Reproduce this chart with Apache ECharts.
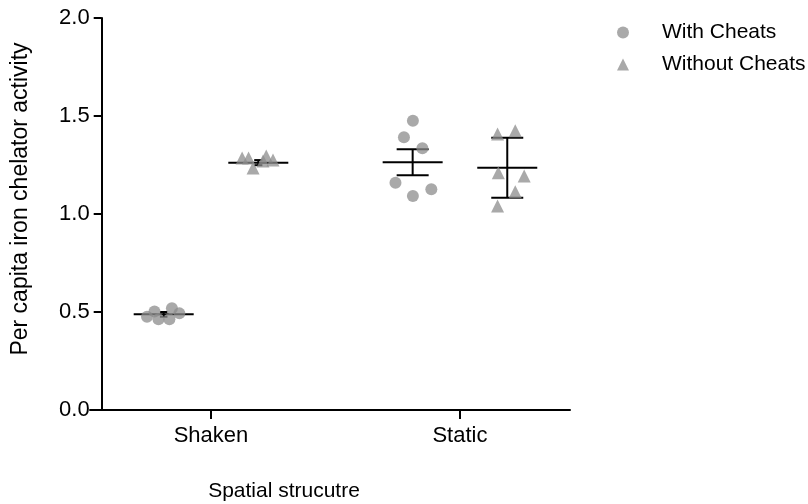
<!DOCTYPE html>
<html>
<head>
<meta charset="utf-8">
<script src="https://cdn.jsdelivr.net/npm/echarts@6/dist/echarts.min.js"></script>
<style>
html,body{margin:0;padding:0;background:#fff;}
#chart{width:808px;height:504px;}
</style>
</head>
<body>
<div id="chart"></div>
<script>
// ---- data ----
const categories = ['Shaken', 'Static'];
const seriesNames = ['With Cheats', 'Without Cheats'];
const yTicks = [0, 0.5, 1, 1.5, 2];

const withShaken     = [0.502, 0.519, 0.493, 0.476, 0.463, 0.463];
const withShakenJit  = [-0.037, 0.033, 0.063, -0.067, -0.021, 0.023];
const withStatic     = [1.476, 1.391, 1.335, 1.160, 1.092, 1.126];
const withStaticJit  = [0.001, -0.035, 0.039, -0.069, 0.001, 0.075];
const withoutShaken    = [1.286, 1.286, 1.235, 1.296, 1.270, 1.276];
const withoutShakenJit = [-0.065, -0.039, -0.021, 0.032, 0.019, 0.059];
const withoutStatic    = [1.408, 1.425, 1.211, 1.194, 1.114, 1.041];
const withoutStaticJit = [-0.039, 0.032, -0.036, 0.068, 0.032, -0.039];

const withMeans    = [0.488, 1.264];
const withErrors   = [0.012, 0.066];
const withoutMeans  = [1.262, 1.236];
const withoutErrors = [0.013, 0.153];

// ---- build ----
const groupOffset = 0.19;
function pts(vals, jit, catIdx, side) {
  return vals.map((v, i) => [catIdx + 1 + side * groupOffset + jit[i], v]);
}
const withData = pts(withShaken, withShakenJit, 0, -1).concat(pts(withStatic, withStaticJit, 1, -1));
const withoutData = pts(withoutShaken, withoutShakenJit, 0, 1).concat(pts(withoutStatic, withoutStaticJit, 1, 1));
const errData = [];
categories.forEach((c, i) => {
  errData.push([i + 1 - groupOffset, withMeans[i], withErrors[i]]);
  errData.push([i + 1 + groupOffset, withoutMeans[i], withoutErrors[i]]);
});

const FONT = 'Liberation Sans, Arial, Helvetica, sans-serif';
const chart = echarts.init(document.getElementById('chart'));
chart.setOption({
  animation: false,
  backgroundColor: '#fff',
  textStyle: { fontFamily: FONT },
  grid: { left: 90, top: 18, width: 480, height: 392, containLabel: false },
  legend: {
    orient: 'vertical', left: 612, top: 17,
    itemWidth: 12, itemHeight: 12, itemGap: 11,
    data: seriesNames,
    textStyle: { fontSize: 21, color: '#000', fontFamily: FONT, padding: [0, 0, 0, 28] }
  },
  xAxis: {
    type: 'value', min: 0.514, max: 2.442,
    axisLine: { show: true, lineStyle: { color: '#000', width: 2 } },
    axisTick: { show: true, length: 9, lineStyle: { color: '#000', width: 2 }, customValues: [1, 2] },
    axisLabel: { customValues: [1, 2], formatter: v => categories[Math.round(v) - 1], fontSize: 22, color: '#000', margin: 15, fontFamily: FONT },
    splitLine: { show: false }
  },
  yAxis: {
    type: 'value', min: 0, max: 2, interval: 0.5, offset: -11.7,
    axisLine: { show: true, lineStyle: { color: '#000', width: 2 } },
    axisTick: { show: true, length: 8, lineStyle: { color: '#000', width: 2 } },
    axisLabel: { formatter: v => v.toFixed(1), fontSize: 22, color: '#000', margin: 12, fontFamily: FONT },
    splitLine: { show: false }
  },
  graphic: [
    { type: 'text', x: 21, y: 199, rotation: Math.PI / 2,
      style: { text: 'Per capita iron chelator activity', font: '23px ' + FONT, fill: '#000', align: 'center', verticalAlign: 'middle' } },
    { type: 'text', x: 284, y: 491,
      style: { text: 'Spatial strucutre', font: '21px ' + FONT, fill: '#000', align: 'center', verticalAlign: 'middle' } }
  ],
  series: [
    {
      type: 'custom', z: 2, silent: true,
      data: errData, encode: { x: 0, y: 1 },
      renderItem: function (params, api) {
        const x = api.value(0), m = api.value(1), e = api.value(2);
        const c = api.coord([x, m]);
        const t = api.coord([x, m + e]);
        const b = api.coord([x, m - e]);
        const cap = Math.min(16, (b[1] - t[1]) / 2 * 1.6);
        const st = { stroke: '#000', lineWidth: 2 };
        return { type: 'group', children: [
          { type: 'line', shape: { x1: c[0] - 30, y1: c[1], x2: c[0] + 30, y2: c[1] }, style: st },
          { type: 'line', shape: { x1: c[0], y1: t[1], x2: c[0], y2: b[1] }, style: st },
          { type: 'line', shape: { x1: c[0] - cap, y1: t[1], x2: c[0] + cap, y2: t[1] }, style: st },
          { type: 'line', shape: { x1: c[0] - cap, y1: b[1], x2: c[0] + cap, y2: b[1] }, style: st }
        ] };
      }
    },
    { name: seriesNames[0], type: 'scatter', z: 3, symbol: 'circle', symbolSize: 12,
      itemStyle: { color: '#8c8c8c', opacity: 0.75 }, data: withData },
    { name: seriesNames[1], type: 'scatter', z: 3, symbol: 'triangle', symbolSize: 13,
      itemStyle: { color: '#8c8c8c', opacity: 0.75 }, data: withoutData }
  ]
});
</script>
</body>
</html>
